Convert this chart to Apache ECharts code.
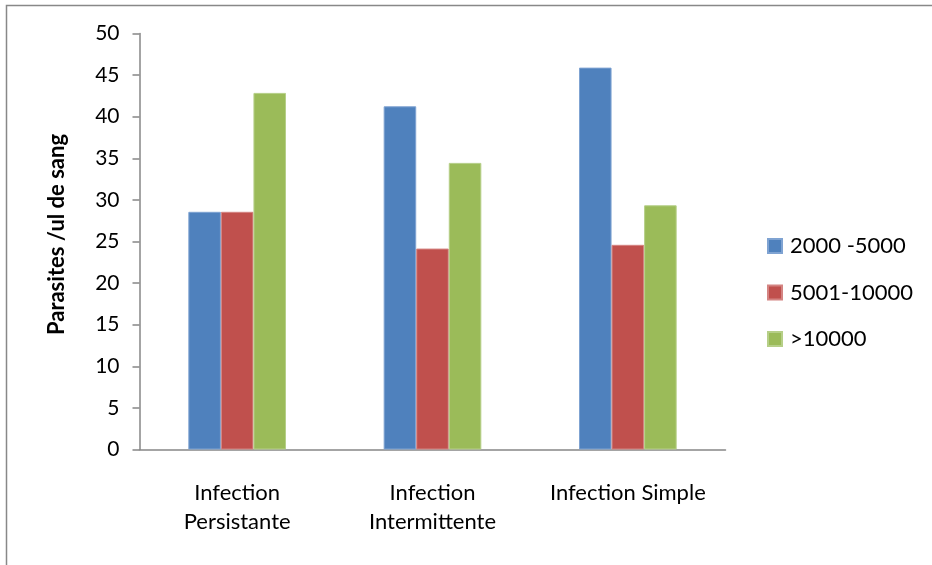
<!DOCTYPE html>
<html>
<head>
<meta charset="utf-8">
<script src="https://cdn.jsdelivr.net/npm/echarts@6/dist/echarts.min.js"></script>
<style>
  html, body { margin: 0; padding: 0; background: #fff; }
  #chart { width: 932px; height: 565px; }
</style>
</head>
<body>
<div id="chart"></div>
<script>
// Parasite density classes per infection type (percent)
const categories = ['Infection\nPersistante', 'Infection\nIntermittente', 'Infection Simple'];
const seriesNames = ['2000 -5000', '5001-10000', '>10000'];
const low = [28.57, 41.25, 45.9];
const mid = [28.57, 24.15, 24.6];
const high = [42.86, 34.45, 29.35];
const yTicks = { min: 0, max: 50, interval: 5 };

const colors = ['#4F81BD', '#C0504D', '#9BBB59'];
const edges = ['#7FA3D2', '#D48482', '#B6CF88'];
const font = 'Lato, "Open Sans", "Liberation Sans", sans-serif';
const axisGray = '#868686';

const chart = echarts.init(document.getElementById('chart'), null, { renderer: 'canvas' });

const values = [low, mid, high];
const series = seriesNames.map((name, i) => ({
  name,
  type: 'bar',
  data: values[i],
  barGap: '0%',
  barCategoryGap: '50%',
  itemStyle: { color: colors[i], borderColor: edges[i], borderWidth: 1 },
  emphasis: { disabled: true }
}));

chart.setOption({
  animation: false,
  textStyle: { fontFamily: font },
  graphic: [{
    type: 'polyline',
    shape: { points: [[6.5, 600], [6.5, 5.5], [940, 5.5]] },
    style: { stroke: '#888', lineWidth: 1.5, fill: null }
  }],
  grid: { left: 139.5, right: 206.5, top: 33.5, bottom: 115.5, containLabel: false },
  legend: {
    orient: 'vertical',
    left: 762,
    top: 230,
    itemWidth: 14,
    itemHeight: 14,
    itemGap: 24.5,
    icon: 'rect',
    selectedMode: false,
    textStyle: { fontSize: 22, lineHeight: 22, color: '#000', fontFamily: font, padding: [0, 0, 0, 3] },
    data: seriesNames
  },
  xAxis: {
    type: 'category',
    data: categories,
    axisLine: { lineStyle: { color: axisGray, width: 1.5 } },
    axisTick: { show: false },
    axisLabel: { color: '#000', fontSize: 22, lineHeight: 29, margin: 29, fontFamily: font, interval: 0 },
    splitLine: { show: false }
  },
  yAxis: {
    type: 'value',
    min: yTicks.min,
    max: yTicks.max,
    interval: yTicks.interval,
    name: 'Parasites /ul de sang',
    nameLocation: 'middle',
    nameGap: 72,
    nameRotate: 90,
    nameTextStyle: { fontSize: 22, fontWeight: 'bold', color: '#000', fontFamily: font, padding: [0, 0, 0, 14] },
    axisLine: { show: true, lineStyle: { color: axisGray, width: 1.5 } },
    axisTick: { show: true, inside: false, length: 7, lineStyle: { color: axisGray, width: 1.5 } },
    axisLabel: { color: '#000', fontSize: 21, margin: 20, fontFamily: font },
    splitLine: { show: false }
  },
  series
});
</script>
</body>
</html>
